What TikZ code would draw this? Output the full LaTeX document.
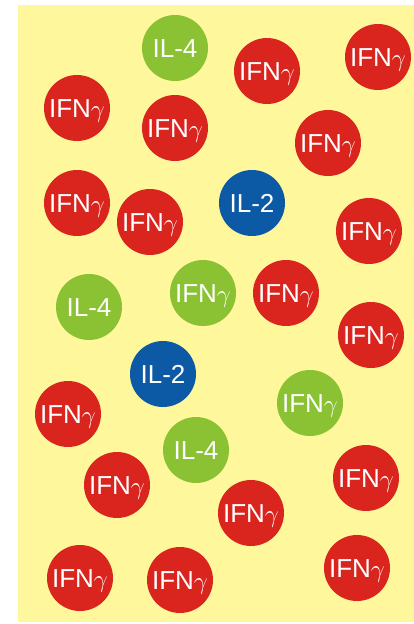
\documentclass[tikz,border=0pt]{standalone}
\usepackage{fontspec}
\setmainfont{Liberation Sans}
\usepackage{xcolor}
\usepackage{tikz}
\usetikzlibrary{positioning}

\definecolor{bgyellow}{RGB}{255,247,156}
\definecolor{ifnred}{RGB}{218,36,30}
\definecolor{ilgreen}{RGB}{138,194,52}
\definecolor{ilblue}{RGB}{12,90,165}

\begin{document}
\begin{tikzpicture}[x=1pt, y=-1pt,
  cyto/.style={circle, minimum size=66pt, inner sep=0pt, text=white,
    font=\fontsize{26}{26}\selectfont, text height=18.6pt, text depth=0pt},
  redcyto/.style={cyto, fill=ifnred},
  greencyto/.style={cyto, fill=ilgreen},
  bluecyto/.style={cyto, fill=ilblue}]
  \useasboundingbox (0,0) rectangle (414,624);
  % background
  \fill[bgyellow] (18,5) rectangle (414,622);
  % IFN-gamma, red
  \foreach \x/\y [count=\i] in {267/71, 378/57, 77/108, 175/128, 328/143,
                                77/203, 150/222, 369/231, 286/293, 371/335,
                                68/414, 117/485, 366/478, 251/513, 80/578,
                                180/580, 357/568} {
    \node[redcyto] (ifn\i) at (\x,\y) {IFN$\gamma$};
  }
  % IFN-gamma, green
  \node[greencyto] (ifng1) at (203,293) {IFN$\gamma$};
  \node[greencyto] (ifng2) at (310,403) {IFN$\gamma$};
  % IL-4
  \node[greencyto] (il4a) at (175,48) {IL-4};
  \node[greencyto] (il4b) at (89,307) {IL-4};
  \node[greencyto] (il4c) at (196,450) {IL-4};
  % IL-2
  \node[bluecyto] (il2a) at (252,203) {IL-2};
  \node[bluecyto] (il2b) at (163,374) {IL-2};
\end{tikzpicture}
\end{document}
